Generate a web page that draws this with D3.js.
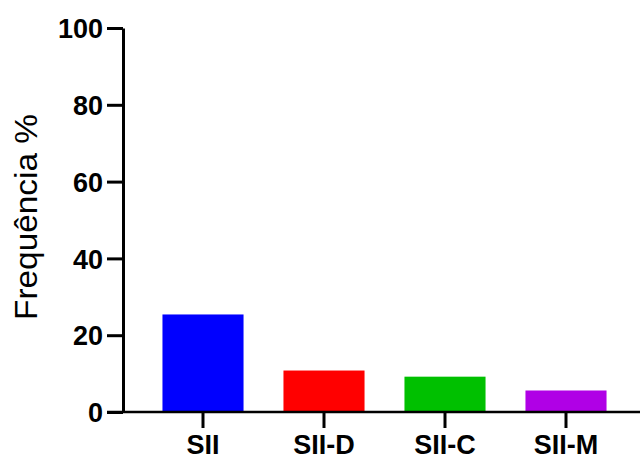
<!DOCTYPE html>
<html>
<head>
<meta charset="utf-8">
<script src="https://cdn.jsdelivr.net/npm/d3@7"></script>
<style>
  body { margin: 0; background: #fff; }
  text { font-family: Arial, "Liberation Sans", sans-serif; }
</style>
</head>
<body>
<div id="chart"></div>
<script>
var categories = ["SII", "SII-D", "SII-C", "SII-M"];
var values = [25.4, 10.8, 9.2, 5.6];
var colors = ["#0000ff", "#ff0000", "#00c000", "#b000e6"];
var yTicks = [0, 20, 40, 60, 80, 100];

var width = 640;
var height = 459;

var svg = d3.select("#chart")
    .append("svg")
    .attr("width", width)
    .attr("height", height);

// scales
var x = d3.scaleBand()
    .domain(categories)
    .range([142.5, 626.5])
    .paddingInner(0.33)
    .paddingOuter(0.165);

var y = d3.scaleLinear()
    .domain([0, 100])
    .range([412, 28]);

// bars
svg.selectAll("rect.bar")
    .data(categories)
    .join("rect")
    .attr("class", "bar")
    .attr("x", d => x(d))
    .attr("width", x.bandwidth())
    .attr("y", (d, i) => y(values[i]))
    .attr("height", (d, i) => y(0) - y(values[i]))
    .attr("fill", (d, i) => colors[i]);

// y axis
var yAxis = svg.append("g")
    .attr("transform", "translate(123,0)")
    .call(d3.axisLeft(y).tickValues(yTicks).tickSize(16).tickSizeOuter(0).tickPadding(4));

yAxis.select(".domain").attr("stroke", "#000").attr("stroke-width", 3);
yAxis.selectAll(".tick line").attr("stroke", "#000").attr("stroke-width", 3);
yAxis.selectAll(".tick text")
    .attr("fill", "#000")
    .style("font-size", "27px")
    .style("font-weight", "bold")
    .attr("dy", "0.36em");

// x axis
var xAxis = svg.append("g")
    .attr("transform", "translate(0,412)")
    .call(d3.axisBottom(x).tickSize(16).tickSizeOuter(0).tickPadding(7));

xAxis.select(".domain")
    .attr("d", "M107,0H640")
    .attr("stroke", "#000")
    .attr("stroke-width", 2.5);
xAxis.selectAll(".tick line").attr("stroke", "#000").attr("stroke-width", 3);
xAxis.selectAll(".tick text")
    .attr("fill", "#000")
    .style("font-size", "27px")
    .style("font-weight", "bold")
    .attr("dy", "0.71em");

// y label
svg.append("text")
    .attr("transform", "translate(37,217) rotate(-90)")
    .attr("text-anchor", "middle")
    .style("font-size", "31px")
    .attr("textLength", 206)
    .attr("lengthAdjust", "spacingAndGlyphs")
    .text("Frequência %");
</script>
</body>
</html>
